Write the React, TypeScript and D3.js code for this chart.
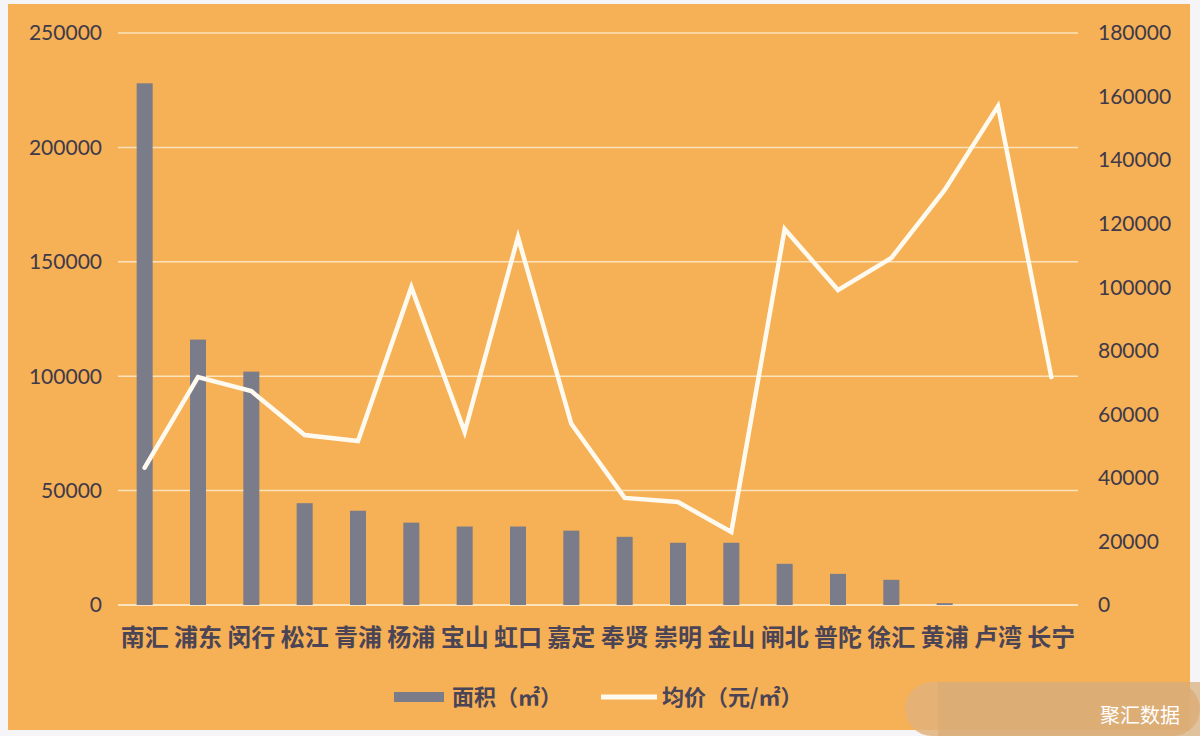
import React from "react";
import * as d3 from "d3";

const categories = ["南汇", "浦东", "闵行", "松江", "青浦", "杨浦", "宝山", "虹口", "嘉定", "奉贤", "崇明", "金山", "闸北", "普陀", "徐汇", "黄浦", "卢湾", "长宁"];
const areaValues = [228000, 116000, 102000, 44500, 41200, 36000, 34300, 34300, 32500, 29800, 27200, 27200, 18000, 13600, 11000, 800, 0, 0];
const priceValues = [43200, 71700, 67300, 53500, 51600, 100000, 54500, 115800, 57000, 33700, 32400, 23000, 118300, 99100, 109200, 130600, 157000, 71700];
const leftTicks = [0, 50000, 100000, 150000, 200000, 250000];
const rightTicks = [0, 20000, 40000, 60000, 80000, 100000, 120000, 140000, 160000, 180000];
const legendLabels = ["面积（㎡）", "均价（元/㎡）"];
const watermark = "聚汇数据";

const W = 1200;
const H = 736;
const plot = { left: 118, right: 1078, top: 33, bottom: 605 };
const BG = "#f6b055";
const BAR = "#7a7c89";
const GRID = "#fbe3bd";
const LINE = "#fffaf0";
const TEXT = "#3e3a4a";
const CJK = "'Noto Sans CJK SC', 'Noto Sans', sans-serif";
const NUM = "Lato, 'Open Sans', sans-serif";

export default function App() {
  const x = d3.scaleBand<string>().domain(categories).range([plot.left, plot.right]).padding(0);
  const yL = d3.scaleLinear().domain([0, 250000]).range([plot.bottom, plot.top]);
  const yR = d3.scaleLinear().domain([0, 180000]).range([plot.bottom, plot.top]);
  const bw = x.bandwidth();
  const barW = bw * 0.3;
  const cx = (c: string) => (x(c) as number) + bw / 2;

  const line = d3
    .line<number>()
    .x((_, i) => cx(categories[i]))
    .y((d) => yR(d))
    .curve(d3.curveLinear);

  return (
    <svg
      width={W}
      height={H}
      style={{ position: "absolute", left: 0, top: 0, display: "block" }}
    >
      <rect x={0} y={0} width={W} height={H} fill="#f5f5f7" />
      <rect x={8} y={4} width={1182} height={726} fill={BG} />

      {/* grid lines */}
      {leftTicks.map((t) => (
        <line
          key={"g" + t}
          x1={plot.left}
          x2={plot.right}
          y1={yL(t)}
          y2={yL(t)}
          stroke={GRID}
          strokeWidth={t === 0 ? 2 : 1.5}
        />
      ))}

      {/* left ticks */}
      {leftTicks.map((t) => (
        <text
          key={"l" + t}
          x={102}
          y={yL(t)}
          dy="0.35em"
          textAnchor="end"
          fontFamily={NUM}
          fontSize={21}
          fill={TEXT}
        >
          {t}
        </text>
      ))}

      {/* right ticks */}
      {rightTicks.map((t) => (
        <text
          key={"r" + t}
          x={1098}
          y={yR(t)}
          dy="0.35em"
          textAnchor="start"
          fontFamily={NUM}
          fontSize={21}
          fill={TEXT}
        >
          {t}
        </text>
      ))}

      {/* bars */}
      {categories.map((c, i) => {
        const v = areaValues[i];
        if (v <= 0) return null;
        const y0 = yL(v);
        return (
          <rect
            key={"b" + c}
            x={cx(c) - barW / 2}
            y={y0}
            width={barW}
            height={Math.max(plot.bottom - y0, 1.5)}
            fill={BAR}
          />
        );
      })}

      {/* price line */}
      <path
        d={line(priceValues) || ""}
        fill="none"
        stroke={LINE}
        strokeWidth={4.5}
        strokeLinejoin="miter"
        strokeLinecap="round"
      />

      {/* x labels */}
      {categories.map((c) => (
        <text
          key={"x" + c}
          x={cx(c)}
          y={638}
          dy="0.35em"
          textAnchor="middle"
          fontFamily={CJK}
          fontWeight={700}
          fontSize={24}
          fill="#4a4456"
        >
          {c}
        </text>
      ))}

      {/* legend */}
      <rect x={394} y={692} width={50} height={10} fill={BAR} />
      <text x={452} y={697} dy="0.35em" fontFamily={CJK} fontWeight={700} fontSize={22} fill="#4a4456">
        {legendLabels[0]}
      </text>
      <line x1={601} x2={657} y1={697} y2={697} stroke={LINE} strokeWidth={5} />
      <text x={662} y={697} dy="0.35em" fontFamily={CJK} fontWeight={700} fontSize={22} fill="#4a4456">
        {legendLabels[1]}
      </text>

      {/* watermark */}
      <rect x={905} y={682} width={295} height={54} rx={27} fill="#e2b27a" opacity={0.85} />
      <rect x={938} y={682} width={262} height={54} fill="#d9ac78" opacity={0.7} />
      <text x={1100} y={716} dy="0.35em" fontFamily={CJK} fontSize={20} fill="#ffffff">
        {watermark}
      </text>
    </svg>
  );
}
